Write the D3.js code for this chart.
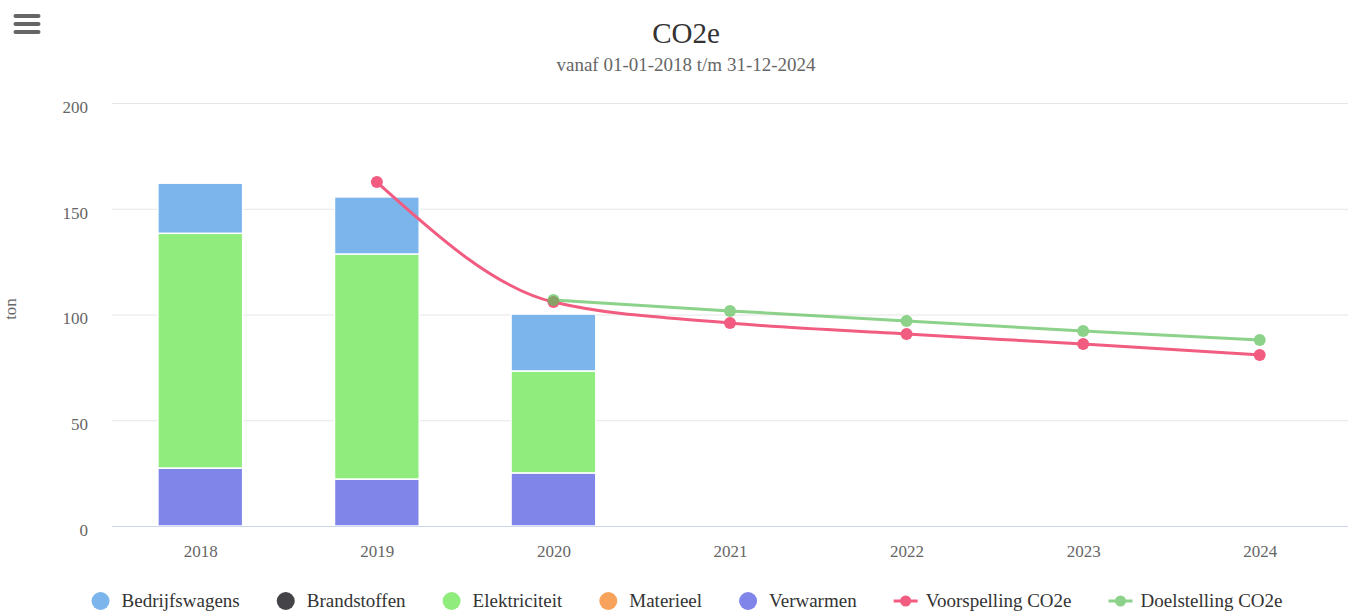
<!DOCTYPE html>
<html>
<head>
<meta charset="utf-8">
<script src="https://cdn.jsdelivr.net/npm/d3@7"></script>
<style>
  body { margin: 0; background: #fff; }
  svg { display: block; font-family: "Liberation Serif", "DejaVu Serif", serif; }
</style>
</head>
<body>
<div id="chart"></div>
<script>
// Data
const years = ["2018", "2019", "2020", "2021", "2022", "2023", "2024"];
const bedrijfswagens = [23.7, 27.0, 26.9, 0, 0, 0, 0];
const brandstoffen = [0, 0, 0, 0, 0, 0, 0];
const elektriciteit = [111.0, 106.4, 48.2, 0, 0, 0, 0];
const materieel = [0, 0, 0, 0, 0, 0, 0];
const verwarmen = [27.4, 22.2, 25.1, 0, 0, 0, 0];
const voorspelling = [null, 162.6, 105.9, 96.0, 90.8, 86.0, 80.9];
const doelstelling = [null, null, 106.9, 101.7, 96.9, 92.2, 87.9];
const yTicks = [0, 50, 100, 150, 200];

const columnSeries = [
    { name: "Bedrijfswagens", values: bedrijfswagens, color: "#7cb5ec" },
    { name: "Brandstoffen", values: brandstoffen, color: "#434348" },
    { name: "Elektriciteit", values: elektriciteit, color: "#90ed7d" },
    { name: "Materieel", values: materieel, color: "#f7a35c" },
    { name: "Verwarmen", values: verwarmen, color: "#8085e9" }
];
const lineSeries = [
    { name: "Voorspelling CO2e", values: voorspelling, color: "#f15c80", opacity: 1 },
    { name: "Doelstelling CO2e", values: doelstelling, color: "#5cc05a", opacity: 0.7 }
];

const W = 1356, H = 612;
const plot = { left: 112, right: 1348, top: 103, bottom: 526 };

const svg = d3.select("#chart").append("svg")
    .attr("width", W).attr("height", H);

// Menu icon
[16, 24, 32].forEach(y => {
    svg.append("line")
        .attr("x1", 15.5).attr("x2", 38.5).attr("y1", y).attr("y2", y)
        .attr("stroke", "#666").attr("stroke-width", 4).attr("stroke-linecap", "round");
});

// Title
svg.append("text").attr("x", 686).attr("y", 43).attr("text-anchor", "middle")
    .attr("font-size", 29).attr("fill", "#333").text("CO2e");
svg.append("text").attr("x", 686).attr("y", 71).attr("text-anchor", "middle")
    .attr("font-size", 19).attr("fill", "#666").text("vanaf 01-01-2018 t/m 31-12-2024");

// Scales
const x = d3.scaleBand().domain(years).range([plot.left, plot.right]).paddingInner(0.52).paddingOuter(0.26);
const xc = d3.scalePoint().domain(years).range([plot.left, plot.right]).padding(0.5);
const y = d3.scaleLinear().domain([0, 200]).range([plot.bottom, plot.top]);

// Grid
svg.append("g").selectAll("line").data(yTicks.filter(t => t > 0)).join("line")
    .attr("x1", plot.left).attr("x2", plot.right)
    .attr("y1", d => y(d) + 0.5).attr("y2", d => y(d) + 0.5)
    .attr("stroke", "#e6e6e6");

// Y axis labels
const yAxis = d3.axisLeft(y).tickValues(yTicks).tickSize(0).tickPadding(0);
const yg = svg.append("g").attr("transform", `translate(88,0)`).call(yAxis);
yg.select(".domain").remove();
yg.selectAll("text").attr("font-family", "Liberation Serif, serif").attr("font-size", 17)
    .attr("fill", "#666").attr("dy", "0.55em");

svg.append("text").attr("transform", "translate(16,309) rotate(-90)")
    .attr("text-anchor", "middle").attr("font-size", 17).attr("fill", "#666").text("ton");

// Stacked columns
const table = years.map((yr, i) => {
    const row = { year: yr };
    columnSeries.forEach(s => row[s.name] = s.values[i]);
    return row;
});
const stack = d3.stack().keys(columnSeries.map(s => s.name).reverse());
const stacked = stack(table);
svg.append("g").selectAll("g").data(stacked).join("g")
    .attr("fill", d => columnSeries.find(s => s.name === d.key).color)
    .selectAll("rect").data(d => d.filter(p => p[1] - p[0] > 0)).join("rect")
    .attr("x", d => x(d.data.year))
    .attr("width", x.bandwidth())
    .attr("y", d => y(d[1]))
    .attr("height", d => y(d[0]) - y(d[1]))
    .attr("stroke", "#fff").attr("stroke-width", 1.5);

// X axis
svg.append("line").attr("x1", plot.left).attr("x2", plot.right)
    .attr("y1", plot.bottom + 0.5).attr("y2", plot.bottom + 0.5).attr("stroke", "#ccd6eb");
const xAxis = d3.axisBottom(xc).tickSize(0).tickPadding(0);
const xg = svg.append("g").attr("transform", `translate(0,557)`).call(xAxis);
xg.select(".domain").remove();
xg.selectAll("text").attr("font-family", "Liberation Serif, serif").attr("font-size", 17)
    .attr("fill", "#666").attr("dy", 0);

// Lines
const line = d3.line()
    .defined(d => d != null)
    .x((d, i) => xc(years[i]))
    .y(d => y(d))
    .curve(d3.curveMonotoneX);

lineSeries.forEach(s => {
    const g = svg.append("g").attr("opacity", s.opacity);
    g.append("path").attr("d", line(s.values))
        .attr("fill", "none").attr("stroke", s.color).attr("stroke-width", 3);
    g.selectAll("circle").data(s.values.map((v, i) => ({ v, i })).filter(d => d.v != null)).join("circle")
        .attr("cx", d => xc(years[d.i])).attr("cy", d => y(d.v)).attr("r", 6)
        .attr("fill", s.color);
});

// Legend
const legend = svg.append("g");
const items = [
    ...columnSeries.map(s => ({ name: s.name, color: s.color, type: "col", opacity: 1 })),
    ...lineSeries.map(s => ({ name: s.name, color: s.color, type: "line", opacity: s.opacity }))
];
let cx = 0;
const ly = 601;
items.forEach(it => {
    const g = legend.append("g").attr("transform", `translate(${cx},0)`);
    const sym = g.append("g").attr("opacity", it.opacity);
    let off;
    if (it.type === "col") {
        sym.append("circle").attr("cx", 9).attr("cy", ly).attr("r", 9).attr("fill", it.color);
        off = 30;
    } else {
        sym.append("line").attr("x1", 0).attr("x2", 24).attr("y1", ly).attr("y2", ly)
            .attr("stroke", it.color).attr("stroke-width", 3);
        sym.append("circle").attr("cx", 12).attr("cy", ly).attr("r", 5.5).attr("fill", it.color);
        off = 32;
    }
    const t = g.append("text").attr("x", off).attr("y", ly + 6)
        .attr("font-size", 19).attr("fill", "#333").text(it.name);
    cx += off + t.node().getComputedTextLength() + 37;
});
const total = cx - 37;
legend.attr("transform", `translate(${687 - total / 2},0)`);
</script>
</body>
</html>
